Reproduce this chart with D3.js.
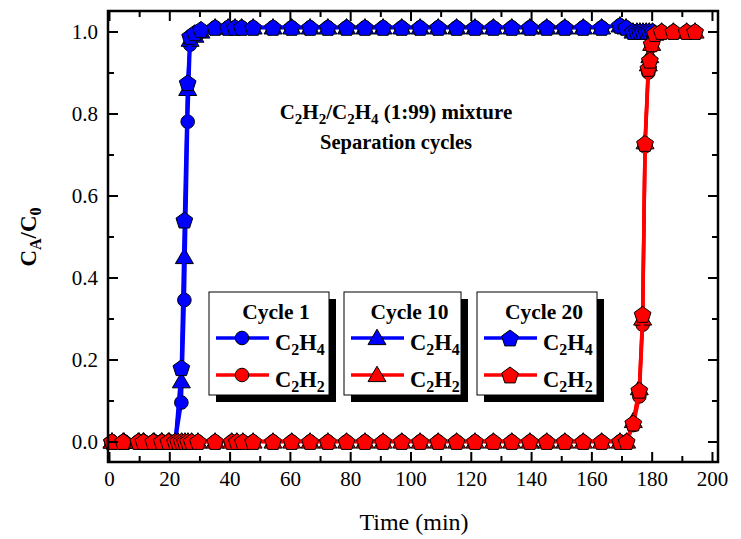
<!DOCTYPE html>
<html>
<head>
<meta charset="utf-8">
<script src="https://cdn.jsdelivr.net/npm/d3@7"></script>
<style>
  html, body { margin: 0; padding: 0; background: #fff; }
  svg { display: block; font-family: "Liberation Serif", "Times New Roman", serif; }
  svg text { font-family: "Liberation Serif", "Times New Roman", serif; fill: #000; }
</style>
</head>
<body>
<svg id="chart" width="741" height="539"></svg>
<script>
// ---------------- data ----------------
const xTicksMajor = [0, 20, 40, 60, 80, 100, 120, 140, 160, 180, 200];
const yTicksMajor = [0.0, 0.2, 0.4, 0.6, 0.8, 1.0];

// time points (min) of the C2H4 (blue) breakthrough curves
const timeC2H4 = [1, 5, 10, 11.5, 15, 17.5, 20, 22,
  24, 25, 26.1, 26.9, 28.5, 30.5,
  35.2, 39.5, 41.8, 44, 47.8, 54.4, 60.6, 66.7, 72.6, 78.8, 84.9, 90.9, 97.1, 103.2,
  109.2, 115.3, 121.4, 127.5, 133.6, 139.6, 145.2, 151.2, 157.3, 163.4, 169.5, 171.5,
  173.8, 175.1, 176.1, 177.1, 178.2, 179.2, 180.3];
const cycle1C2H4 = [0, 0, 0, 0, 0, 0, 0, 0,
  0.095, 0.345, 0.78, 0.968, 0.99, 1.0,
  1.01, 1.01, 1.01, 1.01, 1.01, 1.01, 1.01, 1.01, 1.01, 1.01, 1.01, 1.01, 1.01, 1.01,
  1.01, 1.01, 1.01, 1.01, 1.01, 1.01, 1.01, 1.01, 1.01, 1.01, 1.015, 1.01,
  1.0, 1.0, 1.0, 1.0, 1.0, 1.0, 1.0];
const cycle10C2H4 = [0, 0, 0, 0, 0, 0, 0, 0,
  0.147, 0.45, 0.86, 0.98, 0.99, 1.0,
  1.01, 1.01, 1.01, 1.01, 1.01, 1.01, 1.01, 1.01, 1.01, 1.01, 1.01, 1.01, 1.01, 1.01,
  1.01, 1.01, 1.01, 1.01, 1.01, 1.01, 1.01, 1.01, 1.01, 1.01, 1.015, 1.01,
  1.0, 1.0, 1.0, 1.0, 1.0, 1.0, 1.0];
const cycle20C2H4 = [0, 0, 0, 0, 0, 0, 0, 0,
  0.18, 0.54, 0.875, 0.988, 0.997, 1.005,
  1.01, 1.01, 1.01, 1.01, 1.01, 1.01, 1.01, 1.01, 1.01, 1.01, 1.01, 1.01, 1.01, 1.01,
  1.01, 1.01, 1.01, 1.01, 1.01, 1.01, 1.01, 1.01, 1.01, 1.01, 1.015, 1.01,
  1.0, 1.0, 1.0, 1.0, 1.0, 1.0, 1.0];

// time points (min) of the C2H2 (red) breakthrough curves
const timeC2H2 = [1, 4.7, 9.7, 11.4, 14.7, 17.5, 19.7, 21.9, 22.9, 24.1, 25.2, 26.2, 27.4, 29.5,
  35.2, 40.7, 42.4, 44.4, 47.8, 54.4, 60.6, 66.7, 72.6, 78.8, 84.9, 90.9, 97.1, 103.2,
  109.2, 115.3, 121.4, 127.5, 133.6, 139.6, 145.2, 151.2, 157.3, 163.4, 169.5, 171.7,
  173.9, 175.9, 177.0, 177.8, 178.9, 179.4, 180.0, 181.1, 183.3, 187.2, 191.6, 194.4];
const zeros40 = [0, 0, 0, 0, 0, 0, 0, 0, 0, 0, 0, 0, 0, 0, 0, 0, 0, 0, 0, 0,
  0, 0, 0, 0, 0, 0, 0, 0, 0, 0, 0, 0, 0, 0, 0, 0, 0, 0, 0, 0];
const cycle1C2H2 = zeros40.concat([0.04, 0.11, 0.285, 0.72, 0.90, 0.93, 0.965, 0.99, 1.0, 1.0, 1.0, 1.0]);
const cycle10C2H2 = zeros40.concat([0.05, 0.13, 0.30, 0.73, 0.92, 0.94, 0.97, 0.995, 1.0, 1.0, 1.0, 1.0]);
const cycle20C2H2 = zeros40.concat([0.045, 0.125, 0.31, 0.727, 0.91, 0.93, 0.97, 0.995, 1.0, 1.0, 1.0, 1.0]);

const cycles = ["Cycle 1", "Cycle 10", "Cycle 20"];
const shapes = ["circle", "triangle", "pentagon"];
const gasColors = { C2H4: "#0000ff", C2H2: "#ff0000" };

// ---------------- setup ----------------
const svg = d3.select("#chart");
const FONT = "Liberation Serif, Times New Roman, serif";
const plot = { left: 108, right: 718, top: 11, bottom: 462 };

const x = d3.scaleLinear().domain([0, 202]).range([109, 718]);
const y = d3.scaleLinear().domain([-0.05, 1.05]).range([plot.bottom, plot.top]);

// marker paths
function markerPath(shape) {
  if (shape === "circle") {
    const r = 6.8;
    return `M${r},0A${r},${r},0,1,1,${-r},0A${r},${r},0,1,1,${r},0Z`;
  }
  if (shape === "triangle") {
    return "M0,-8.8L9,6.6L-9,6.6Z";
  }
  const R = 8.8, pts = [];
  for (let k = 0; k < 5; k++) {
    const a = (-90 + 72 * k) * Math.PI / 180;
    pts.push([R * Math.cos(a), R * Math.sin(a) + 0.8]);
  }
  return "M" + pts.map(p => p[0].toFixed(2) + "," + p[1].toFixed(2)).join("L") + "Z";
}

// ---------------- series ----------------
const series = [
  { gas: "C2H4", shape: "circle", t: timeC2H4, v: cycle1C2H4 },
  { gas: "C2H4", shape: "triangle", t: timeC2H4, v: cycle10C2H4 },
  { gas: "C2H4", shape: "pentagon", t: timeC2H4, v: cycle20C2H4 },
  { gas: "C2H2", shape: "circle", t: timeC2H2, v: cycle1C2H2 },
  { gas: "C2H2", shape: "triangle", t: timeC2H2, v: cycle10C2H2 },
  { gas: "C2H2", shape: "pentagon", t: timeC2H2, v: cycle20C2H2 }
];

const line = d3.line().x(d => x(d[0])).y(d => y(d[1]));
const gSeries = svg.append("g");
series.forEach(s => {
  const pts = s.t.map((t, i) => [t, s.v[i]]);
  const g = gSeries.append("g");
  g.append("path").attr("d", line(pts)).attr("fill", "none")
    .attr("stroke", gasColors[s.gas]).attr("stroke-width", 3.5).attr("stroke-linejoin", "round");
  g.selectAll("path.m").data(pts).join("path").attr("class", "m")
    .attr("d", markerPath(s.shape))
    .attr("transform", d => `translate(${x(d[0])},${y(d[1])})`)
    .attr("fill", gasColors[s.gas]).attr("stroke", "#000").attr("stroke-width", 1);
});

// ---------------- axes ----------------
const xMinor = d3.range(10, 201, 20);
const yMinor = [0.1, 0.3, 0.5, 0.7, 0.9];

function styleAxis(g) {
  g.attr("font-family", FONT);
  g.select(".domain").remove();
  g.selectAll(".tick line").attr("stroke", "#000").attr("stroke-width", 2);
  g.selectAll(".tick text").attr("font-size", 21).attr("fill", "#000");
}

svg.append("g").attr("transform", `translate(0,${plot.bottom})`)
  .call(d3.axisBottom(x).tickValues(xTicksMajor).tickSize(-10).tickPadding(9).tickFormat(d3.format("d")))
  .call(styleAxis);
svg.append("g").attr("transform", `translate(0,${plot.bottom})`)
  .call(d3.axisBottom(x).tickValues(xMinor).tickSize(-6).tickFormat(""))
  .call(styleAxis);
svg.append("g").attr("transform", `translate(0,${plot.top})`)
  .call(d3.axisTop(x).tickValues(xTicksMajor).tickSize(-10).tickFormat(""))
  .call(styleAxis);
svg.append("g").attr("transform", `translate(0,${plot.top})`)
  .call(d3.axisTop(x).tickValues(xMinor).tickSize(-6).tickFormat(""))
  .call(styleAxis);

svg.append("g").attr("transform", `translate(${plot.left},0)`)
  .call(d3.axisLeft(y).tickValues(yTicksMajor).tickSize(-10).tickPadding(10).tickFormat(d3.format(".1f")))
  .call(styleAxis);
svg.append("g").attr("transform", `translate(${plot.left},0)`)
  .call(d3.axisLeft(y).tickValues(yMinor).tickSize(-6).tickFormat(""))
  .call(styleAxis);
svg.append("g").attr("transform", `translate(${plot.right},0)`)
  .call(d3.axisRight(y).tickValues(yTicksMajor).tickSize(-10).tickFormat(""))
  .call(styleAxis);
svg.append("g").attr("transform", `translate(${plot.right},0)`)
  .call(d3.axisRight(y).tickValues(yMinor).tickSize(-6).tickFormat(""))
  .call(styleAxis);

// frame
svg.append("rect").attr("x", plot.left).attr("y", plot.top)
  .attr("width", plot.right - plot.left).attr("height", plot.bottom - plot.top)
  .attr("fill", "none").attr("stroke", "#000").attr("stroke-width", 2.5);

// axis titles
svg.append("text").attr("x", 414).attr("y", 530).attr("text-anchor", "middle")
  .attr("font-family", FONT).attr("font-size", 24).text("Time (min)");

const yl = svg.append("text").attr("transform", "translate(36,237) rotate(-90)")
  .attr("text-anchor", "middle").attr("font-family", FONT).attr("font-size", 23).attr("font-weight", "bold");
yl.append("tspan").text("C");
yl.append("tspan").attr("font-size", 16).attr("dy", 5).text("A");
yl.append("tspan").attr("dy", -5).text("/C");
yl.append("tspan").attr("font-size", 16).attr("dy", 5).text("0");

// chemical-formula text helper: "_{x}" marks subscripts
function chemText(g, xPos, yPos, str, big, small, anchor) {
  const t = g.append("text").attr("x", xPos).attr("y", yPos)
    .attr("text-anchor", anchor).attr("font-family", FONT).attr("font-weight", "bold").attr("font-size", big);
  let sub = false;
  const tokens = str.match(/_\{[^}]*\}|[^_]+/g);
  tokens.forEach(tok => {
    if (tok.startsWith("_{")) {
      t.append("tspan").attr("font-size", small).attr("dy", sub ? 0 : 5).text(tok.slice(2, -1));
      sub = true;
    } else {
      t.append("tspan").attr("font-size", big).attr("dy", sub ? -5 : 0).text(tok);
      sub = false;
    }
  });
  return t;
}
chemText(svg, 396, 119, "C_{2}H_{2}/C_{2}H_{4} (1:99) mixture", 21, 15, "middle");
svg.append("text").attr("x", 396).attr("y", 149).attr("text-anchor", "middle")
  .attr("font-family", FONT).attr("font-size", 20.5).attr("font-weight", "bold").text("Separation cycles");

// ---------------- legends ----------------
const legendBoxes = [
  { x: 209, w: 120 },
  { x: 344, w: 117 },
  { x: 477, w: 120 }
];
const legTop = 292, legH = 103;
cycles.forEach((c, i) => {
  const b = legendBoxes[i];
  const g = svg.append("g");
  g.append("rect").attr("x", b.x + 7).attr("y", legTop + 7).attr("width", b.w).attr("height", legH).attr("fill", "#000");
  g.append("rect").attr("x", b.x).attr("y", legTop).attr("width", b.w).attr("height", legH)
    .attr("fill", "#fff").attr("stroke", "#000").attr("stroke-width", 1);
  g.append("text").attr("x", b.x + b.w / 2 + 7).attr("y", legTop + 27).attr("text-anchor", "middle")
    .attr("font-family", FONT).attr("font-size", 21.5).attr("font-weight", "bold").text(c);
  [["C2H4", "C_{2}H_{4}", 46], ["C2H2", "C_{2}H_{2}", 83]].forEach(r => {
    const yy = legTop + r[2];
    g.append("line").attr("x1", b.x + 7).attr("x2", b.x + 60).attr("y1", yy).attr("y2", yy)
      .attr("stroke", gasColors[r[0]]).attr("stroke-width", 3.5);
    g.append("path").attr("d", markerPath(shapes[i])).attr("transform", `translate(${b.x + 33},${yy})`)
      .attr("fill", gasColors[r[0]]).attr("stroke", "#000").attr("stroke-width", 1);
    chemText(g, b.x + 66, yy + 12, r[1], 22.5, 16, "start");
  });
});
</script>
</body>
</html>
